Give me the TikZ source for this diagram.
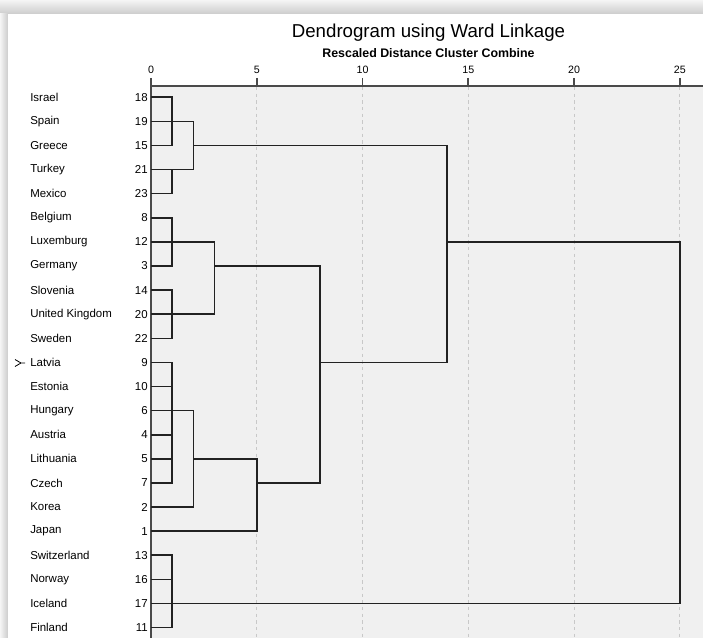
\documentclass[tikz,border=0pt]{standalone}
\usepackage{fontspec}
\setmainfont{Liberation Sans}
\definecolor{plotbg}{HTML}{F0F0F0}
\definecolor{gridcol}{HTML}{C8C8C8}
\definecolor{axiscol}{HTML}{4A4A4A}
\definecolor{linkcol}{HTML}{222222}

\begin{document}
\begin{tikzpicture}[x=0.75pt,y=-0.75pt,
    country/.style={anchor=west,inner sep=0pt,font=\fontsize{8.6}{10}\selectfont},
    caseno/.style={anchor=east,inner sep=0pt,font=\fontsize{8.6}{10}\selectfont},
    ticklab/.style={inner sep=0pt,font=\fontsize{8}{10}\selectfont},
    link/.style={draw=linkcol,line width=1.2pt},
    grid/.style={draw=gridcol,line width=0.7pt,dash pattern=on 2.5pt off 2.5pt},
    ]
\useasboundingbox (0,0) rectangle (703,638);
% shadow, panel and plot area
\shade[top color=gray!8,bottom color=gray!40] (0,0) rectangle (703,14);
\shade[left color=gray!8,right color=gray!40] (0,14) rectangle (8,638);
\fill[white] (8,14) rectangle (703,638);
\fill[plotbg] (151,86) rectangle (703,638);

% titles
\node[inner sep=0pt,font=\fontsize{14}{16}\selectfont] (title) at (428.5,33) {Dendrogram using Ward Linkage};
\node[inner sep=0pt,font=\fontsize{9.3}{11}\selectfont\bfseries] (subtitle) at (428.5,53) {Rescaled Distance Cluster Combine};

% grid, axis and ticks
\foreach \d in {5,10,...,25}
    \draw[grid] ({151+21.15*\d},87) -- ({151+21.15*\d},638);
\draw[axiscol,line width=1.2pt] (151,86) -- (703,86);
\draw[axiscol,line width=1.2pt] (151,86) -- (151,638);
\foreach \d in {0,5,...,25}{
    \draw[axiscol,line width=1.2pt] ({151+21.15*\d},78) -- ({151+21.15*\d},86);
    \node[ticklab] (t\d) at ({151+21.15*\d},70) {\d};
}

% case labels
\foreach \name/\num [count=\r from 0] in {Israel/18,Spain/19,Greece/15,Turkey/21,Mexico/23,
    Belgium/8,Luxemburg/12,Germany/3,Slovenia/14,United Kingdom/20,Sweden/22,
    Latvia/9,Estonia/10,Hungary/6,Austria/4,Lithuania/5,Czech/7,Korea/2,Japan/1,
    Switzerland/13,Norway/16,Iceland/17,Finland/11}{
    \node[country] (c\num) at (30,{97.3+24.1*\r}) {\name};
    \node[caseno] (n\num) at (148,{97.3+24.1*\r}) {\num};
}
\draw[line width=0.6pt] (15,359.5) -- (21,363) -- (15,366.5) (21,363) -- (25,363);

% dendrogram, x = distance, y = row
\begin{scope}[xshift=113.25pt,yshift=-72.975pt,x=15.8625pt,y=-18.075pt]
\draw[link] (0,0) -| (1,2) -- (0,2);
\draw[link] (0,1) -- (2,1) |- (0,3);
\draw[link] (0,4) -| (1,3);
\draw[link] (2,2) -| (14,11) -- (8,11);
\draw[link] (14,6) -- (25,6) |- (0,21);
\draw[link] (0,5) -| (1,7) -- (0,7);
\draw[link] (0,6) -- (3,6) |- (0,9);
\draw[link] (0,8) -| (1,10) -- (0,10);
\draw[link] (3,7) -| (8,16) -- (5,16);
\draw[link] (0,11) -| (1,16) -- (0,16);
\draw[link] (0,12) -- (1,12) (0,14) -- (1,14) (0,15) -- (1,15);
\draw[link] (0,13) -- (2,13) |- (0,17);
\draw[link] (2,15) -- (5,15) |- (0,18);
\draw[link] (0,19) -| (1,22) -- (0,22);
\draw[link] (0,20) -- (1,20);
\end{scope}
\end{tikzpicture}
\end{document}
